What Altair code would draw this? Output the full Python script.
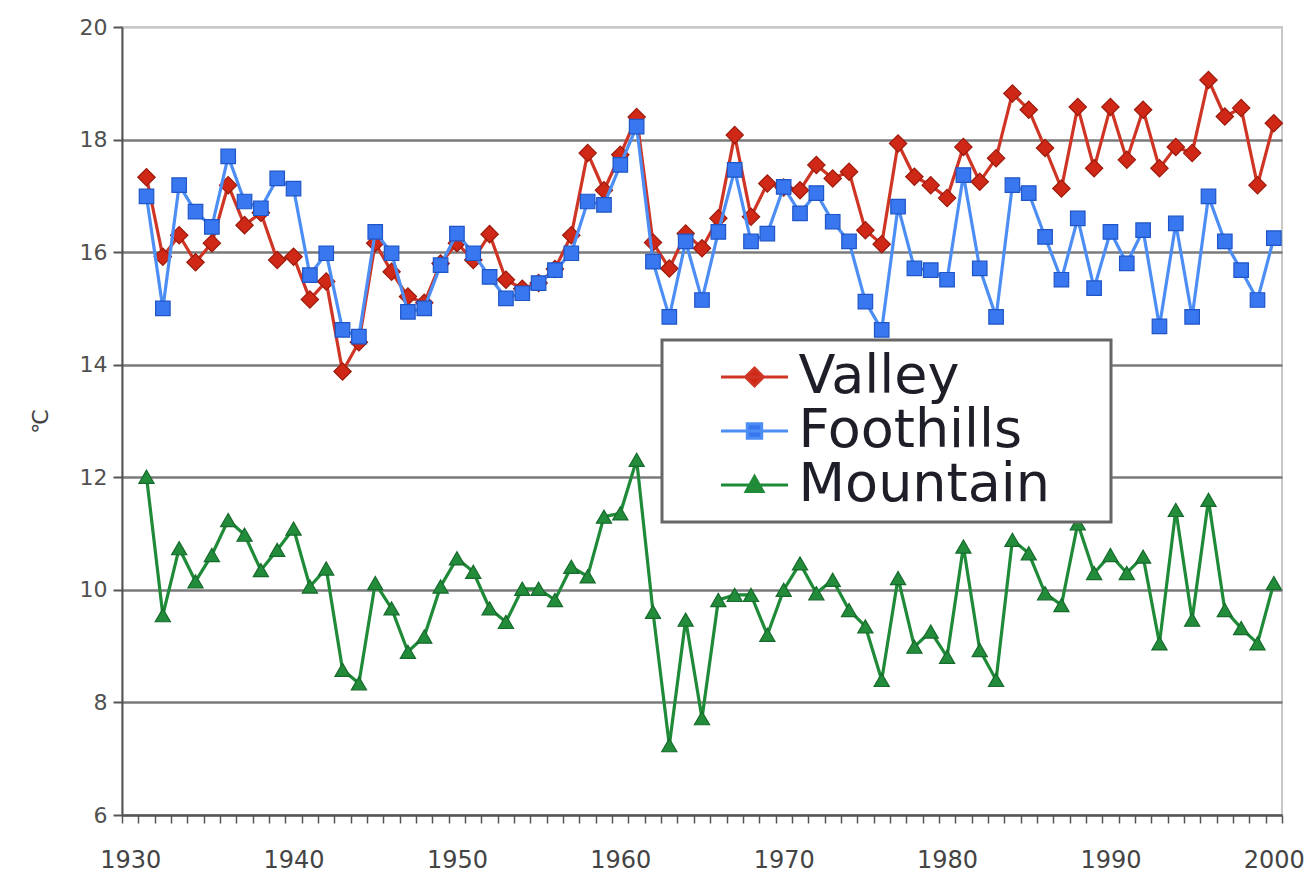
import altair as alt
import pandas as pd

years = list(range(1931, 2001))

valley = [17.33, 15.92, 16.30, 15.82, 16.16, 17.19, 16.48, 16.70, 15.86, 15.92,
          15.16, 15.48, 13.88, 14.40, 16.16, 15.65, 15.21, 15.10, 15.80, 16.16,
          15.86, 16.32, 15.51, 15.35, 15.45, 15.70, 16.30, 17.76, 17.10, 17.73,
          18.40, 16.17, 15.71, 16.33, 16.07, 16.60, 18.08, 16.63, 17.22, 17.15,
          17.10, 17.55, 17.31, 17.43, 16.39, 16.14, 17.93, 17.34, 17.19, 16.96,
          17.87, 17.25, 17.67, 18.82, 18.53, 17.85, 17.13, 18.58, 17.49, 18.58,
          17.64, 18.53, 17.49, 17.87, 17.76, 19.06, 18.41, 18.56, 17.19, 18.29]

foothills = [16.99, 15.00, 17.19, 16.72, 16.45, 17.70, 16.90, 16.78, 17.31, 17.13,
             15.59, 15.98, 14.62, 14.50, 16.36, 15.98, 14.94, 15.00, 15.77, 16.33,
             15.98, 15.56, 15.18, 15.27, 15.45, 15.68, 15.98, 16.90, 16.84, 17.55,
             18.23, 15.83, 14.85, 16.19, 15.15, 16.36, 17.46, 16.19, 16.33, 17.16,
             16.69, 17.05, 16.54, 16.19, 15.12, 14.62, 16.81, 15.71, 15.68, 15.51,
             17.37, 15.71, 14.85, 17.19, 17.05, 16.27, 15.51, 16.60, 15.36, 16.36,
             15.80, 16.39, 14.68, 16.51, 14.85, 16.99, 16.19, 15.68, 15.15, 16.25]

mountain = [12.01, 9.55, 10.74, 10.15, 10.62, 11.24, 10.98, 10.35, 10.71, 11.09,
            10.06, 10.38, 8.58, 8.34, 10.12, 9.67, 8.90, 9.17, 10.06, 10.56,
            10.32, 9.67, 9.43, 10.02, 10.02, 9.82, 10.41, 10.24, 11.30, 11.36,
            12.31, 9.61, 7.24, 9.47, 7.72, 9.82, 9.91, 9.91, 9.20, 10.00,
            10.47, 9.94, 10.18, 9.64, 9.35, 8.40, 10.21, 8.99, 9.26, 8.81,
            10.77, 8.93, 8.40, 10.89, 10.65, 9.94, 9.73, 11.18, 10.30, 10.62,
            10.30, 10.59, 9.05, 11.42, 9.47, 11.60, 9.64, 9.32, 9.05, 10.12]

series_names = ["Valley", "Foothills", "Mountain"]
line_colors = ["#cf3524", "#4d8ef5", "#1f8a38"]
marker_fill = ["#d02816", "#3877ef", "#228c3b"]
marker_edge = ["#9c1a0c", "#1f55c6", "#166a2b"]
marker_shapes = ["diamond", "square", "triangle-up"]
marker_sizes = [300, 210, 230]
y_ticks = [6, 8, 10, 12, 14, 16, 18, 20]
x_labels = [1930, 1940, 1950, 1960, 1970, 1980, 1990, 2000]

# legend symbols: line with a marker in the middle (custom unit paths);
# the leading move-to only widens the legend box, it draws nothing
legend_paths = [
    "M17.0,0M-1.675,0L1.675,0M0,-0.45L0.45,0L0,0.45L-0.45,0Z",
    "M17.0,0M-1.675,0L1.675,0M-0.36,-0.36L0.36,-0.36L0.36,0.36L-0.36,0.36Z",
    "M17.0,0M-1.675,0L1.675,0M0,-0.42L0.42,0.32L-0.42,0.32Z",
]

rows = []
for name, vals in zip(series_names, [valley, foothills, mountain]):
    for yr, v in zip(years, vals):
        rows.append({"year": yr, "temp": v, "series": name})
df = pd.DataFrame(rows)

boundaries = [1929.5 + i for i in range(72)]
x_scale = alt.Scale(domain=[1929.5, 2000.5], nice=False, zero=False)

# axis with decade labels (no ticks)
x_axis_labels = alt.Axis(
    values=x_labels, format="d", orient="bottom",
    labelOverlap=False, labelBound=False, labelFlush=False,
    labelFont="DejaVu Sans", labelFontSize=24, labelColor="#444444",
    labelPadding=33, ticks=False, domain=False, grid=False, title=None,
)
# axis with a tick at every category boundary (no labels)
x_axis_ticks = alt.Axis(
    values=boundaries, orient="bottom", labels=False,
    tickSize=8, tickColor="#555555", tickWidth=1.5,
    domainColor="#555555", domainWidth=2, grid=False, title=None,
)

y_scale = alt.Scale(domain=[6, 20], nice=False, zero=False)
y_axis = alt.Axis(
    values=y_ticks,
    labelFont="DejaVu Sans", labelFontSize=22, labelColor="#505050", labelPadding=6,
    tickSize=9, tickColor="#555555", tickWidth=2,
    domainColor="#555555", domainWidth=2,
    grid=True,
    gridColor={"condition": {"test": "datum.value == 20", "value": "#c8c8c8"}, "value": "#7a7a7a"},
    gridWidth=2.5,
    title="℃", titleFont="DejaVu Sans", titleFontSize=22, titleFontWeight="normal",
    titleColor="#444444", titlePadding=27,
)

base = alt.Chart(df)
layers = []
for i, name in enumerate(series_names):
    sub = base.transform_filter(alt.datum.series == name)
    if i == 0:
        xl = alt.X("year:Q", scale=x_scale, axis=x_axis_labels)
        xp = alt.X("year:Q", scale=x_scale, axis=x_axis_ticks)
    else:
        xl = alt.X("year:Q", scale=x_scale, axis=None)
        xp = alt.X("year:Q", scale=x_scale, axis=None)
    yl = alt.Y("temp:Q", scale=y_scale, axis=y_axis)
    layers.append(
        sub.mark_line(color=line_colors[i], strokeWidth=3.2).encode(x=xl, y=yl)
    )
    layers.append(
        sub.mark_point(
            shape=marker_shapes[i], filled=True, fill=marker_fill[i],
            stroke=marker_edge[i], strokeWidth=1.2, size=marker_sizes[i], opacity=1,
        ).encode(x=xp, y=yl)
    )

legend_obj = alt.Legend(
    title=None,
    orient="none",
    legendX=540,
    legendY=313,
    padding=10,
    symbolSize=1600,
    symbolStrokeWidth=3,
    symbolOpacity=1,
    symbolOffset=55.5,
    labelOffset=17,
    labelFont="DejaVu Sans",
    labelFontSize=54,
    labelColor="#1e1e28",
    labelLimit=800,
    rowPadding=0,
    strokeColor="#666666",
    fillColor="white",
)

legend_layer = base.transform_filter("false").mark_point(filled=True, opacity=1).encode(
    shape=alt.Shape("series:N", scale=alt.Scale(domain=series_names, range=legend_paths), legend=legend_obj),
    fill=alt.Fill("series:N", scale=alt.Scale(domain=series_names, range=marker_fill), legend=legend_obj),
    stroke=alt.Stroke("series:N", scale=alt.Scale(domain=series_names, range=line_colors), legend=legend_obj),
)

chart = alt.layer(*layers, legend_layer).resolve_axis(x="independent").properties(
    width=1160,
    height=788,
    padding={"left": 21, "top": 8, "right": 0, "bottom": 5},
    background="white",
).configure_view(stroke="#c8c8c8", strokeWidth=2).configure_legend(strokeWidth=3)

chart.save("out.html", embed_options={"renderer": "svg", "actions": False})
